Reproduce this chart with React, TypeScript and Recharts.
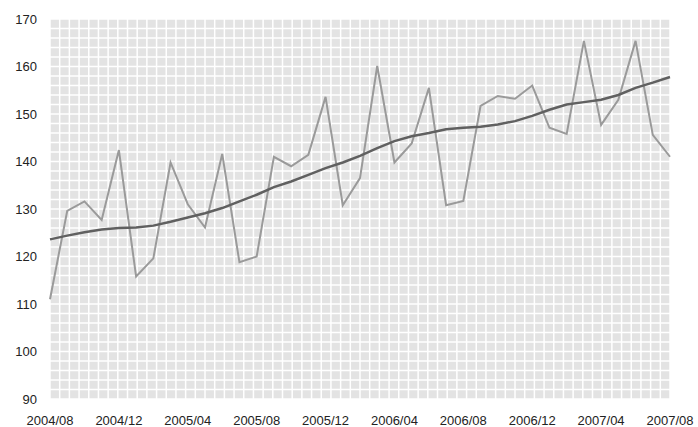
import React from "react";
import { LineChart, Line, XAxis, YAxis, CartesianGrid } from "recharts";

const months = [
  "2004/08","2004/09","2004/10","2004/11","2004/12","2005/01","2005/02","2005/03","2005/04","2005/05","2005/06","2005/07",
  "2005/08","2005/09","2005/10","2005/11","2005/12","2006/01","2006/02","2006/03","2006/04","2006/05","2006/06","2006/07",
  "2006/08","2006/09","2006/10","2006/11","2006/12","2007/01","2007/02","2007/03","2007/04","2007/05","2007/06","2007/07",
  "2007/08",
];

const rawValues = [
  111, 129.6, 131.6, 127.7, 142.4, 115.8, 119.6, 139.8, 131, 126.1, 141.6, 118.8,
  120, 141, 139, 141.4, 153.6, 130.8, 136.5, 160.1, 139.8, 143.8, 155.5, 130.8,
  131.7, 151.7, 153.8, 153.2, 156, 147.1, 145.8, 165.4, 147.7, 153, 165.4, 145.6,
  141,
];

const trendValues = [
  123.6, 124.4, 125.1, 125.7, 126, 126.1, 126.5, 127.3, 128.2, 129.1, 130.2, 131.6,
  133, 134.6, 135.8, 137.2, 138.6, 139.8, 141.2, 142.8, 144.3, 145.3, 146, 146.8,
  147.1, 147.3, 147.8, 148.5, 149.6, 150.9, 152, 152.5, 153, 154, 155.5, 156.6,
  157.8,
];

const xTicks = ["2004/08","2004/12","2005/04","2005/08","2005/12","2006/04","2006/08","2006/12","2007/04","2007/08"];
const yTicks = [90, 100, 110, 120, 130, 140, 150, 160, 170];

const data = months.map((m, i) => ({ month: m, raw: rawValues[i], trend: trendValues[i] }));

const tickStyle = { fontFamily: "'Liberation Sans', Arial, sans-serif", fontSize: 13, fill: "#222" };

export default function App() {
  return (
    <div style={{ position: "absolute", left: 0, top: 0, width: 698, height: 427, background: "#fff" }}>
      <LineChart width={698} height={427} data={data} margin={{ top: 19, right: 28, bottom: 0, left: 0 }}>
        <CartesianGrid
          fill="#e3e3e3"
          stroke="#ffffff"
          strokeWidth={1.5}
          verticalCoordinatesGenerator={({ offset }: any) =>
            Array.from({ length: 65 }, (_, k) => offset.left + (offset.width * k) / 64)
          }
          horizontalCoordinatesGenerator={({ offset }: any) =>
            Array.from({ length: 41 }, (_, k) => offset.top + (offset.height * k) / 40)
          }
        />
        <XAxis
          dataKey="month"
          ticks={xTicks}
          interval={0}
          axisLine={false}
          tickLine={false}
          tickSize={0}
          tickMargin={17}
          height={28}
          tick={tickStyle}
          padding={{ left: 0, right: 0 }}
        />
        <YAxis
          domain={[90, 170]}
          ticks={yTicks}
          axisLine={false}
          tickLine={false}
          tickSize={0}
          tickMargin={13}
          width={50}
          tick={tickStyle}
        />
        <Line type="linear" dataKey="raw" stroke="#9a9a9a" strokeWidth={2} dot={false} isAnimationActive={false} />
        <Line type="linear" dataKey="trend" stroke="#606060" strokeWidth={2.5} dot={false} isAnimationActive={false} />
      </LineChart>
    </div>
  );
}
